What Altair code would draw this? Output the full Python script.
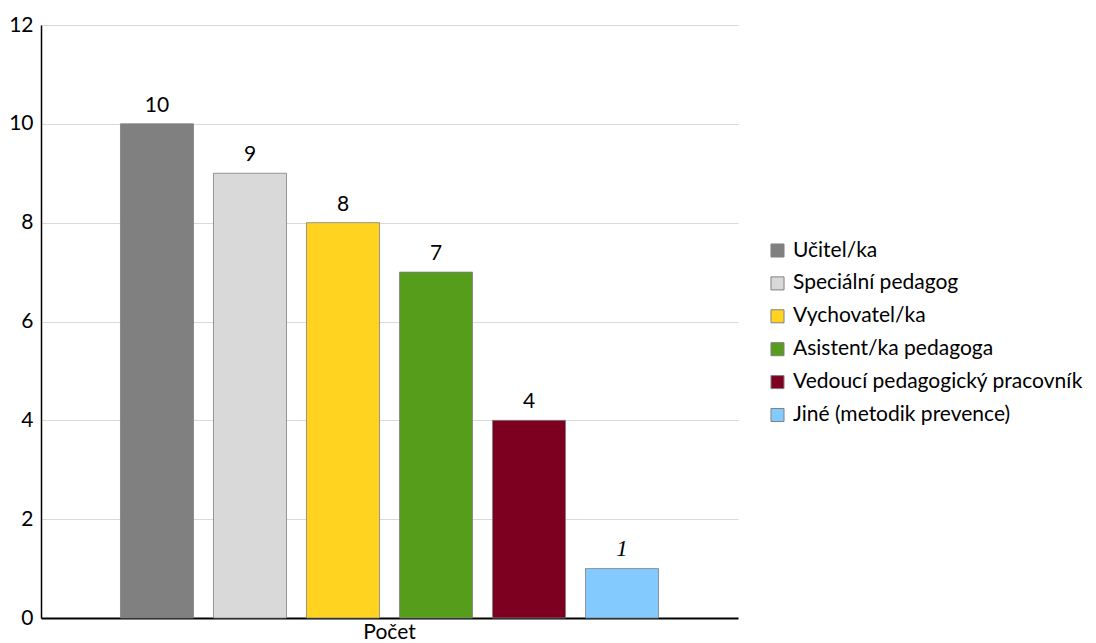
import altair as alt
import pandas as pd

categories = ["Učitel/ka", "Speciální pedagog", "Vychovatel/ka", "Asistent/ka pedagoga",
              "Vedoucí pedagogický pracovník", "Jiné (metodik prevence)"]
values = [10, 9, 8, 7, 4, 1]
colors = ["#808080", "#d9d9d9", "#ffd320", "#579d1c", "#7e0021", "#83caff"]
group = "Počet"

df = pd.DataFrame({"group": group, "role": categories, "value": values})

FONT = "Lato"

x = alt.X("group:N", title=None,
          scale=alt.Scale(paddingInner=0, paddingOuter=0.1245),
          axis=alt.Axis(labelAngle=0, labelFont=FONT, labelFontSize=21, labelColor="#000",
                        domainColor="#000", domainWidth=2, ticks=False, labelPadding=3))
xo = alt.XOffset("role:N", sort=categories,
                 scale=alt.Scale(paddingInner=0.215, paddingOuter=0.1075))
y = alt.Y("value:Q", title=None,
          scale=alt.Scale(domain=[0, 12], nice=False),
          axis=alt.Axis(values=[0, 2, 4, 6, 8, 10, 12], labelFont=FONT, labelFontSize=21,
                        labelColor="#000", domainColor="#000", domainWidth=1.5,
                        ticks=False, labelPadding=8, gridColor="#d9d9d9", gridWidth=1.2))

bars = alt.Chart(df).mark_bar(stroke="#7f7f7f", strokeWidth=0.8).encode(
    x=x, xOffset=xo, y=y,
    color=alt.Color("role:N", sort=categories, title=None,
                    scale=alt.Scale(domain=categories, range=colors),
                    legend=alt.Legend(orient="none", legendX=726, legendY=215,
                                      labelFont=FONT, labelFontSize=21, labelColor="#000",
                                      symbolType="square", symbolSize=170,
                                      symbolStrokeColor="#808080", symbolStrokeWidth=1,
                                      rowPadding=10.9, labelOffset=5, labelLimit=400))
)

base_text = alt.Chart(df).encode(x=x, xOffset=xo, y=y, text="value:Q")
labels = base_text.transform_filter(alt.datum.value > 1).mark_text(
    baseline="bottom", dy=-8, font=FONT, fontSize=21, color="#000")
labels_it = base_text.transform_filter(alt.datum.value <= 1).mark_text(
    baseline="bottom", dy=-8, font="Liberation Serif", fontStyle="italic", fontSize=23, color="#000")

chart = alt.layer(bars, labels, labels_it).properties(
    width=697, height=593,
    autosize=alt.AutoSizeParams(type="none"),
    padding={"left": 33, "top": 17, "right": 350, "bottom": 25},
).configure_view(stroke=None)

chart.save("out.html", embed_options={"renderer": "svg", "actions": False})
